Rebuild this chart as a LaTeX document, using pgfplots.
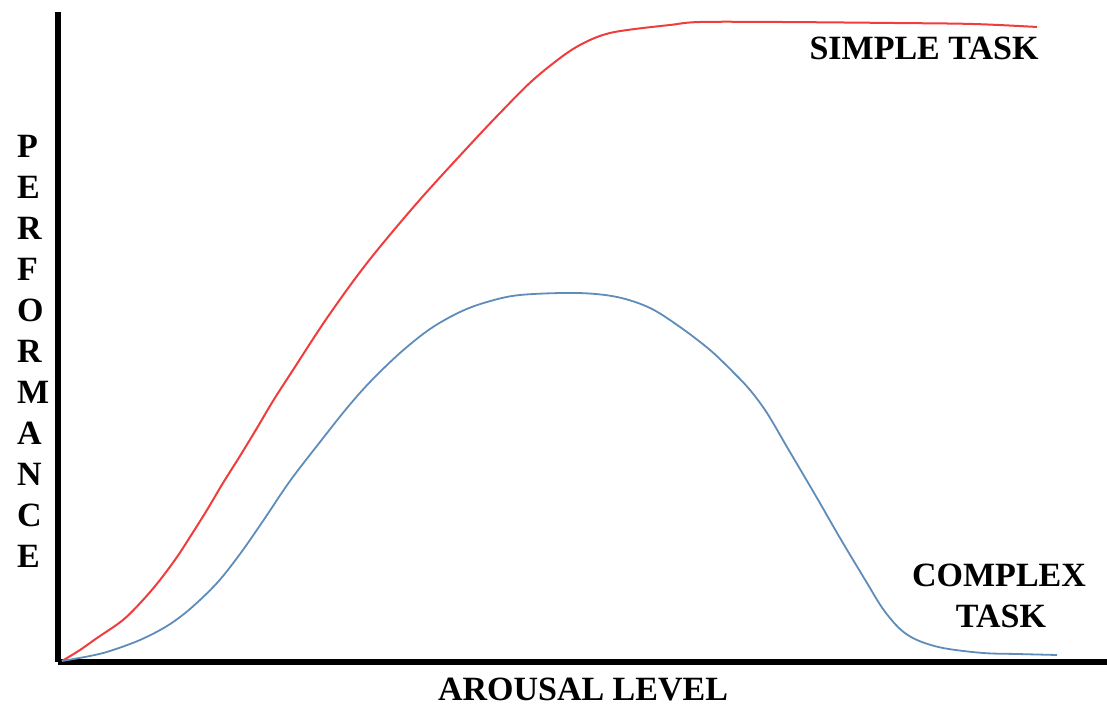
\documentclass[border=0pt]{standalone}
\usepackage{pgfplots}
\pgfplotsset{compat=1.18}
\usepackage{fontspec}
\setmainfont{Liberation Serif}
\definecolor{simplered}{RGB}{240,60,60}
\definecolor{complexblue}{RGB}{95,140,185}
\begin{document}
\begin{tikzpicture}[x=1pt,y=1pt]
\useasboundingbox (0,0) rectangle (1107,708);
\begin{axis}[
  at={(58pt,46pt)}, anchor=south west,
  scale only axis, width=1049pt, height=650pt,
  xmin=58, xmax=1107, ymin=0, ymax=650,
  axis lines=left,
  axis line style={line width=6pt, -},
  ticks=none,
  clip=false,
]
\addplot[simplered, line width=2pt, smooth, tension=0.55] coordinates {
(62,1) (80,12) (97,24) (123,42) (143,62) (160,82) (177,105) (190,125) (207,152)
(223,179) (240,206) (257,234) (273,261) (293,292) (327,344) (367,399) (417,459)
(467,514) (500,549) (533,582) (567,609) (590,622) (610,629) (635,633) (670,637)
(700,640) (780,640) (893,639) (973,638) (1037,635)
};
\addplot[complexblue, line width=1.8pt, smooth, tension=0.55] coordinates {
(62,1) (90,6) (110,11) (140,22) (167,36) (190,53) (217,79) (240,108) (263,141)
(290,181) (320,220) (347,254) (370,280) (400,309) (430,333) (460,350) (487,360)
(520,367) (577,369) (617,365) (650,354) (680,335) (710,312) (733,290) (750,272)
(767,249) (787,215) (817,164) (840,124) (867,79) (883,53) (900,33) (917,22)
(943,14) (983,9) (1017,8) (1057,7)
};
\end{axis}
\begin{scope}[every node/.style={font=\fontsize{34}{34}\selectfont\bfseries, inner sep=0pt}]
\node[anchor=base] at (924,648) {SIMPLE TASK};
\node[anchor=base] at (999,121) {COMPLEX};
\node[anchor=base] at (1001,80) {TASK};
\node[anchor=base] at (583,7) {AROUSAL LEVEL};
\foreach \l [count=\i from 0] in {P,E,R,F,O,R,M,A,N,C,E} {
  \node[anchor=base west] at (17,550-41*\i) {\l};
}
\end{scope}
\end{tikzpicture}
\end{document}
